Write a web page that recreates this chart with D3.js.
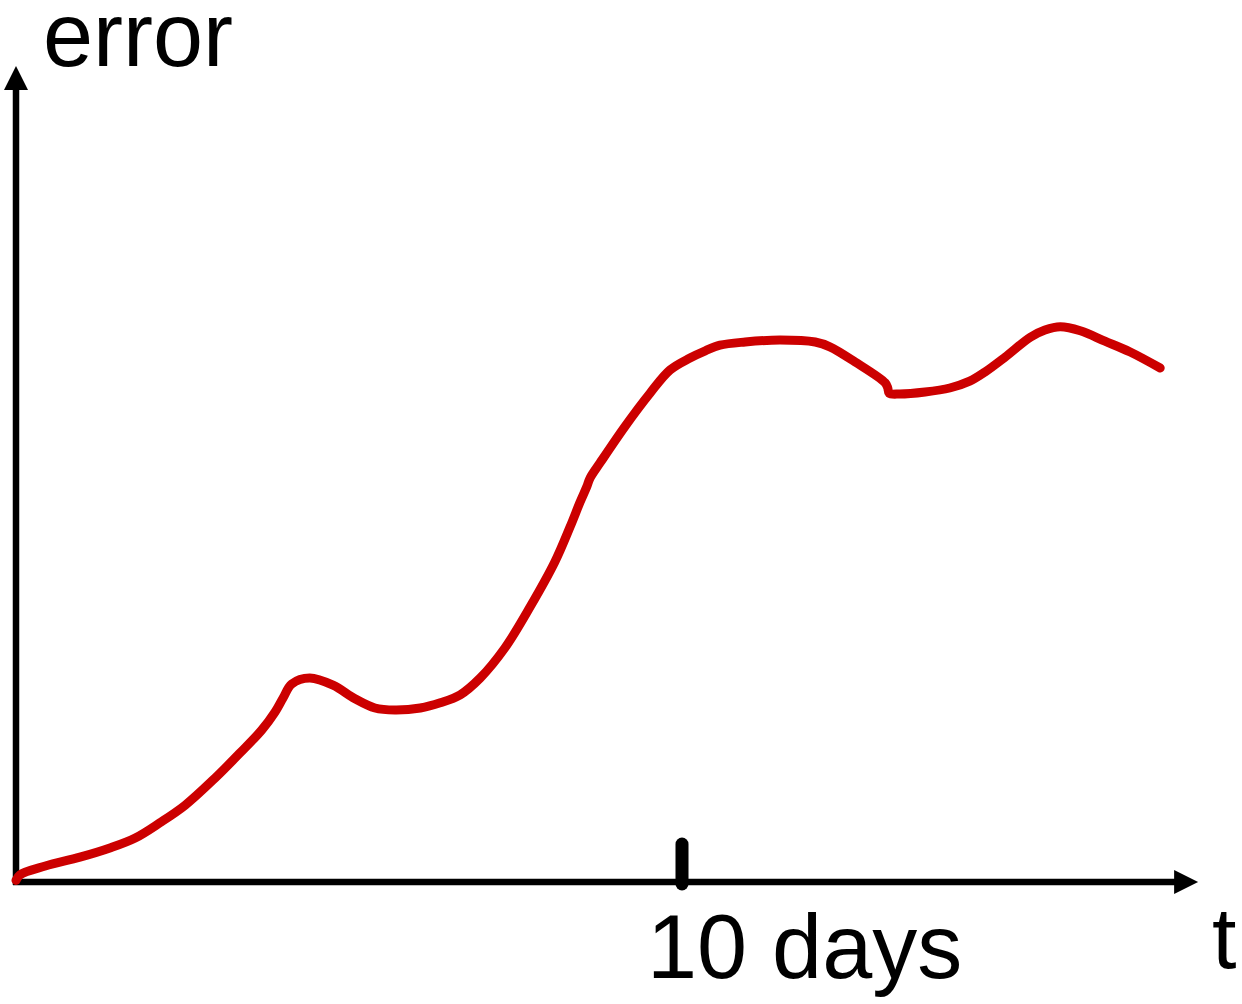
<!DOCTYPE html>
<html>
<head>
<meta charset="utf-8">
<script src="https://cdn.jsdelivr.net/npm/d3@7"></script>
<style>
  html, body { margin: 0; padding: 0; background: #fff; }
  svg { display: block; }
  text { font-family: "Liberation Sans", Arial, sans-serif; fill: #000; }
</style>
</head>
<body>
<svg id="chart" width="1242" height="1004"></svg>
<script>
const days = [0, 0.06, 0.44, 0.96, 1.41, 1.79, 2.16, 2.54, 2.99, 3.36, 3.69, 3.89, 4.01, 4.14, 4.41, 4.76, 5.09, 5.39, 5.69, 6.07, 6.37, 6.67, 6.97, 7.34, 7.72, 8.09, 8.32, 8.47, 8.57, 8.62, 8.77, 9.14, 9.52, 9.82, 10.12, 10.35, 10.57, 10.95, 11.47, 12.0, 12.22, 12.6, 13.05, 13.09, 13.11, 13.27, 13.65, 14.02, 14.32, 14.55, 14.85, 15.23, 15.45, 15.68, 15.98, 16.35, 16.73, 17.18];
const errorValues = [0.2, 0.9, 2.0, 3.1, 4.25, 5.5, 7.4, 9.6, 13.0, 16.1, 19.0, 21.25, 23.0, 24.75, 25.5, 24.6, 22.9, 21.75, 21.5, 21.75, 22.4, 23.4, 25.5, 29.25, 34.4, 40.0, 44.4, 47.5, 49.4, 50.5, 52.4, 56.9, 61.1, 64.0, 65.5, 66.4, 67.1, 67.5, 67.75, 67.5, 66.9, 65.0, 62.4, 61.75, 61.1, 61.0, 61.25, 61.75, 62.6, 63.75, 65.6, 68.1, 69.0, 69.4, 68.9, 67.6, 66.25, 64.25];
const tickDays = [10];
const tickLabels = ["10 days"];
const xAxisTitle = "t";
const yAxisTitle = "error";

const svg = d3.select("#chart");
const x = d3.scaleLinear().domain([0, 10]).range([16, 682]);
const y = d3.scaleLinear().domain([0, 100]).range([882, 82]);

const x0 = x(0), y0 = y(0);
const xEnd = x(17.75);   // arrow tip
const yEnd = y(102);     // arrow tip
const head = 24, halfW = 12;

// y axis
svg.append("line")
  .attr("x1", x0).attr("y1", y0 + 3).attr("x2", x0).attr("y2", yEnd + head - 2)
  .attr("stroke", "#000").attr("stroke-width", 6.5);
svg.append("path")
  .attr("d", `M${x0},${yEnd} L${x0 - halfW},${yEnd + head} L${x0 + halfW},${yEnd + head} Z`)
  .attr("fill", "#000");

// x axis
svg.append("line")
  .attr("x1", x0 - 3).attr("y1", y0).attr("x2", xEnd - head + 2).attr("y2", y0)
  .attr("stroke", "#000").attr("stroke-width", 6.5);
svg.append("path")
  .attr("d", `M${xEnd},${y0} L${xEnd - head},${y0 - halfW} L${xEnd - head},${y0 + halfW} Z`)
  .attr("fill", "#000");

// ticks
tickDays.forEach((d, i) => {
  svg.append("line")
    .attr("x1", x(d)).attr("y1", y0 - 38).attr("x2", x(d)).attr("y2", y0 + 2)
    .attr("stroke", "#000").attr("stroke-width", 13).attr("stroke-linecap", "round");
  svg.append("text")
    .attr("x", x(d) - 35).attr("y", 978)
    .attr("font-size", 90)
    .text(tickLabels[i]);
});

// axis titles
svg.append("text").attr("x", 1212).attr("y", 968).attr("font-size", 88).text(xAxisTitle);
svg.append("text").attr("x", 43).attr("y", 66).attr("font-size", 90).text(yAxisTitle);

// data line
const line = d3.line()
  .x((d, i) => x(days[i]))
  .y((d, i) => y(errorValues[i]))
  .curve(d3.curveCatmullRom.alpha(0.5));

svg.append("path")
  .datum(days)
  .attr("d", line)
  .attr("fill", "none")
  .attr("stroke", "#cc0000")
  .attr("stroke-width", 9)
  .attr("stroke-linecap", "round")
  .attr("stroke-linejoin", "round");
</script>
</body>
</html>
